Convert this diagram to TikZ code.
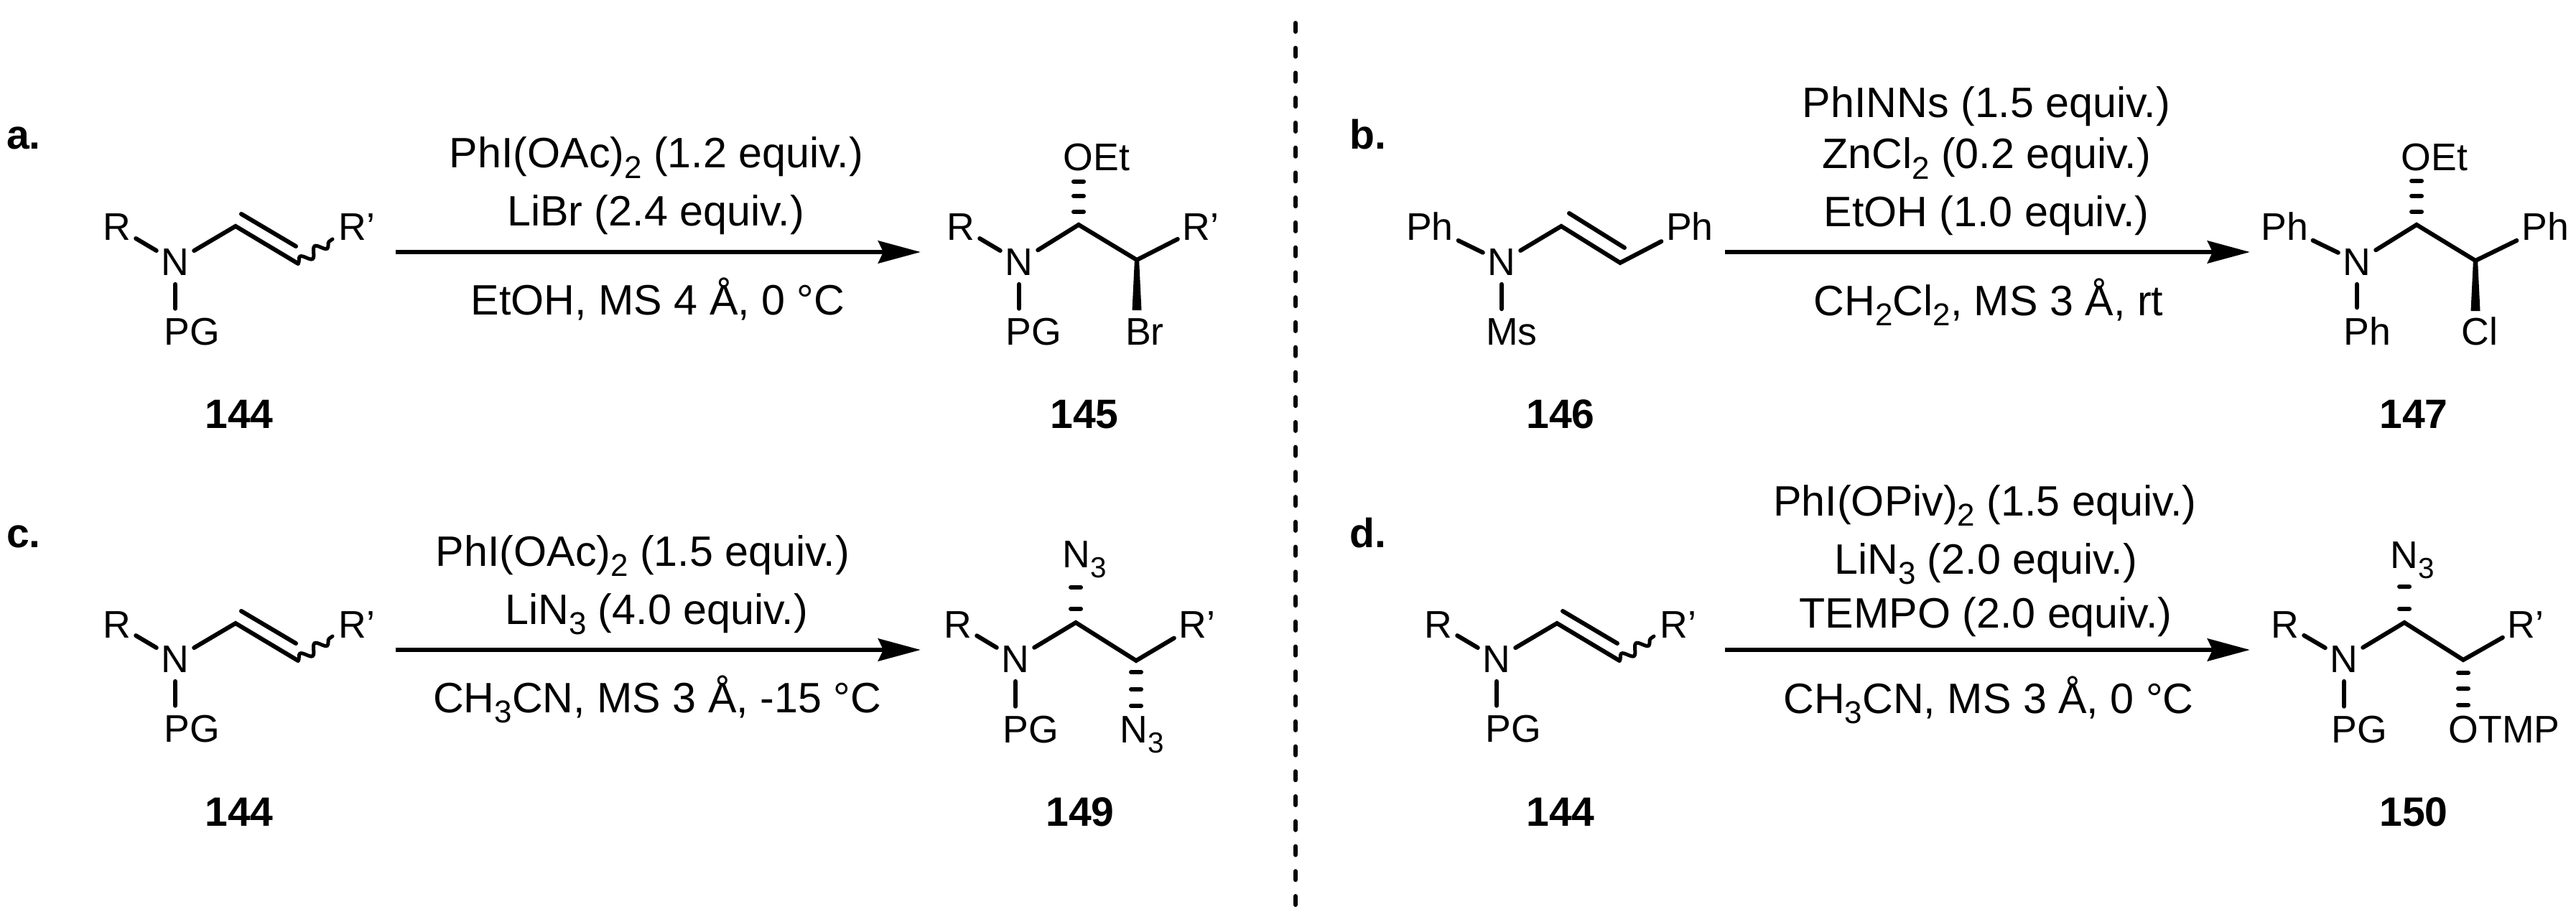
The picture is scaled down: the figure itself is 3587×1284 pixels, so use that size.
\documentclass[tikz,border=0pt]{standalone}
\usepackage{fontspec}
\setmainfont{Liberation Sans}
\usetikzlibrary{arrows.meta,decorations.pathmorphing}
\newcommand{\sbs}[1]{\raisebox{-8.5pt}{\fontsize{25}{25}\selectfont #1}}
\newcommand{\sba}[1]{\raisebox{-8pt}{\fontsize{23}{23}\selectfont #1}}
\newcommand{\txtsize}{\fontsize{33.7}{33.7}\selectfont}
\newcommand{\atomsize}{\fontsize{30.5}{30.5}\selectfont}
\newcommand{\cpdsize}{\fontsize{32.5}{32.5}\selectfont}
% reactant with wavy bond: prefix, dx, dy
\newcommand{\wavyreactant}[3]{%
\begin{scope}[shift={(#2,#3)}]
\node[atom] (#1R) at (163,335) {R};
\node[atom] (#1N) at (244,383) {N};
\node[atom] (#1PG) at (267,480) {PG};
\node[atom] (#1Rp) at (497,335) {R'};
\coordinate (#1C1) at (328,315);
\coordinate (#1C2) at (415,367);
\coordinate (#1D1) at (336,298);
\coordinate (#1D2) at (412,343);
\coordinate (#1W) at (463,333);
\draw[bond] (#1R) -- (#1N);
\draw[bond] (#1N) -- (#1C1) -- (#1C2);
\draw[bond] (#1D1) -- (#1D2);
\draw[vbond] (#1N.south) -- (#1N.south |- #1PG.north);
\draw[wavy] (#1C2) -- (#1W);
\end{scope}}
% hashed bar
\newcommand{\hashbar}[2]{\draw[hashb] (#1-7,#2) -- (#1+7,#2);}
% wedge from a stereocentre
\newcommand{\wedgeb}[1]{\fill (#1) ++(-3,-2) -- ++(-3.5,72) -- ++(13,0) -- ++(-3.5,-72) -- cycle;}
\begin{document}
\begin{tikzpicture}[x=0.02cm,y=-0.02cm,
  atom/.style={anchor=base,inner sep=0.13cm,font=\atomsize},
  lbl/.style={anchor=base,inner sep=0pt,font=\txtsize},
  cpd/.style={anchor=base,inner sep=0pt,font=\cpdsize\bfseries},
  bond/.style={line width=0.12cm,line cap=round},
  vbond/.style={bond,shorten <=0.12cm,shorten >=0.12cm},
  hashb/.style={line width=0.12cm,line cap=round},
  wavy/.style={line width=0.1cm,line cap=round,decorate,decoration={snake,segment length=0.5cm,amplitude=0.13cm}},
  rxn/.style={line width=0.135cm,-{Stealth[length=1.18cm,width=0.62cm,inset=0.14cm]}},
  divider/.style={line width=0.12cm,line cap=round,dash pattern=on 0.24cm off 0.455cm}]
\fill[white] (0,0) rectangle (3587,1284);
\useasboundingbox (0,0) rectangle (3587,1284);
% divider
\coordinate (dtop) at (1804,32);
\coordinate (dbot) at (1804,1262);
\draw[divider] (dtop) -- (dbot);
% panel labels
\node[cpd] (la) at (33,208) {a.};
\node[cpd] (lb) at (1905,208) {b.};
\node[cpd] (lc) at (33,762) {c.};
\node[cpd] (ld) at (1905,762) {d.};
% arrows
\coordinate (a1) at (551,351); \coordinate (a2) at (1282,351);
\coordinate (b1) at (2402,351); \coordinate (b2) at (3133,351);
\coordinate (c1) at (551,905); \coordinate (c2) at (1282,905);
\coordinate (d1) at (2402,905); \coordinate (d2) at (3133,905);
\draw[rxn] (a1) -- (a2);
\draw[rxn] (b1) -- (b2);
\draw[rxn] (c1) -- (c2);
\draw[rxn] (d1) -- (d2);
% conditions a
\node[lbl] (ta1) at (914,234) {PhI(OAc)\sbs{2} (1.2 equiv.)};
\node[lbl] (ta2) at (913,315) {LiBr (2.4 equiv.)};
\node[lbl] (ta3) at (916,438) {EtOH, MS 4 Å, 0 °C};
% conditions b
\node[lbl] (tb1) at (2766,164) {PhINNs (1.5 equiv.)};
\node[lbl] (tb2) at (2766,235) {ZnCl\sbs{2} (0.2 equiv.)};
\node[lbl] (tb3) at (2766,316) {EtOH (1.0 equiv.)};
\node[lbl] (tb4) at (2769,439) {CH\sbs{2}Cl\sbs{2}, MS 3 Å, rt};
% conditions c
\node[lbl] (tc1) at (895,788) {PhI(OAc)\sbs{2} (1.5 equiv.)};
\node[lbl] (tc2) at (914,869) {LiN\sbs{3} (4.0 equiv.)};
\node[lbl] (tc3) at (915,992) {CH\sbs{3}CN, MS 3 Å, -15 °C};
% conditions d
\node[lbl] (td1) at (2764,718) {PhI(OPiv)\sbs{2} (1.5 equiv.)};
\node[lbl] (td2) at (2765,799) {LiN\sbs{3} (2.0 equiv.)};
\node[lbl] (td3) at (2765,874) {TEMPO (2.0 equiv.)};
\node[lbl] (td4) at (2769,993) {CH\sbs{3}CN, MS 3 Å, 0 °C};
% compound numbers
\node[cpd] (n144a) at (333,596) {144};
\node[cpd] (n145) at (1510,596) {145};
\node[cpd] (n146) at (2173,596) {146};
\node[cpd] (n147) at (3361,596) {147};
\node[cpd] (n144c) at (333,1150) {144};
\node[cpd] (n149) at (1504,1150) {149};
\node[cpd] (n144d) at (2173,1150) {144};
\node[cpd] (n150) at (3361,1150) {150};
% reactants
\wavyreactant{ra}{0}{0}
\wavyreactant{rc}{0}{553}
\wavyreactant{rd}{1840}{553}
% reactant b
\node[atom] (rbR) at (1991,335) {Ph};
\node[atom] (rbN) at (2091,383) {N};
\node[atom] (rbMs) at (2105,480) {Ms};
\node[atom] (rbRp) at (2353,335) {Ph};
\coordinate (rbC1) at (2174,315);
\coordinate (rbC2) at (2256,366);
\coordinate (rbD1) at (2185,297);
\coordinate (rbD2) at (2262,345);
\draw[bond] (rbR) -- (rbN);
\draw[bond] (rbN) -- (rbC1) -- (rbC2) -- (rbRp);
\draw[bond] (rbD1) -- (rbD2);
\draw[vbond] (rbN.south) -- (rbN.south |- rbMs.north);
% product a
\node[atom] (paR) at (1338,335) {R};
\node[atom] (paN) at (1419,383) {N};
\node[atom] (paPG) at (1439,480) {PG};
\node[atom] (paRp) at (1672,335) {R'};
\node[atom] (paBr) at (1594,480) {Br};
\node[atom] (paO) at (1527,238) {OEt};
\coordinate (paC1) at (1502,313);
\coordinate (paC2) at (1583,362);
\draw[bond] (paR) -- (paN);
\draw[bond] (paN) -- (paC1) -- (paC2) -- (paRp);
\draw[vbond] (paN.south) -- (paN.south |- paPG.north);
\wedgeb{paC2}
\hashbar{1502}{295}\hashbar{1502}{273}\hashbar{1502}{253}
% product b
\node[atom] (pbR) at (3181,335) {Ph};
\node[atom] (pbN) at (3282,383) {N};
\node[atom] (pbPG) at (3296,480) {Ph};
\node[atom] (pbRp) at (3544,335) {Ph};
\node[atom] (pbCl) at (3453,480) {Cl};
\node[atom] (pbO) at (3390,238) {OEt};
\coordinate (pbC1) at (3365,313);
\coordinate (pbC2) at (3447,363);
\draw[bond] (pbR) -- (pbN);
\draw[bond] (pbN) -- (pbC1) -- (pbC2) -- (pbRp);
\draw[vbond] (pbN.south) -- (pbN.south |- pbPG.north);
\wedgeb{pbC2}
\hashbar{3365}{295}\hashbar{3365}{273}\hashbar{3365}{252}
% product c
\node[atom] (pcR) at (1334,888) {R};
\node[atom] (pcN) at (1414,936) {N};
\node[atom] (pcPG) at (1435,1034) {PG};
\node[atom] (pcRp) at (1667,888) {R'};
\node[atom] (pcU) at (1510,790) {N\sba{3}};
\node[atom] (pcD) at (1590,1034) {N\sba{3}};
\coordinate (pcC1) at (1498,867);
\coordinate (pcC2) at (1582,920);
\draw[bond] (pcR) -- (pcN);
\draw[bond] (pcN) -- (pcC1) -- (pcC2) -- (pcRp);
\draw[vbond] (pcN.south) -- (pcN.south |- pcPG.north);
\hashbar{1498}{848}\hashbar{1498}{818}
\hashbar{1582}{936}\hashbar{1582}{960}\hashbar{1582}{983}
% product d
\node[atom] (pdR) at (3182,888) {R};
\node[atom] (pdN) at (3264,936) {N};
\node[atom] (pdPG) at (3285,1034) {PG};
\node[atom] (pdRp) at (3517,888) {R'};
\node[atom] (pdU) at (3359,791) {N\sba{3}};
\node[atom] (pdD) at (3487,1034) {OTMP};
\coordinate (pdC1) at (3348,867);
\coordinate (pdC2) at (3430,919);
\draw[bond] (pdR) -- (pdN);
\draw[bond] (pdN) -- (pdC1) -- (pdC2) -- (pdRp);
\draw[vbond] (pdN.south) -- (pdN.south |- pdPG.north);
\hashbar{3348}{848}\hashbar{3348}{817}
\hashbar{3430}{937}\hashbar{3430}{959}\hashbar{3430}{982}
\end{tikzpicture}
\end{document}
